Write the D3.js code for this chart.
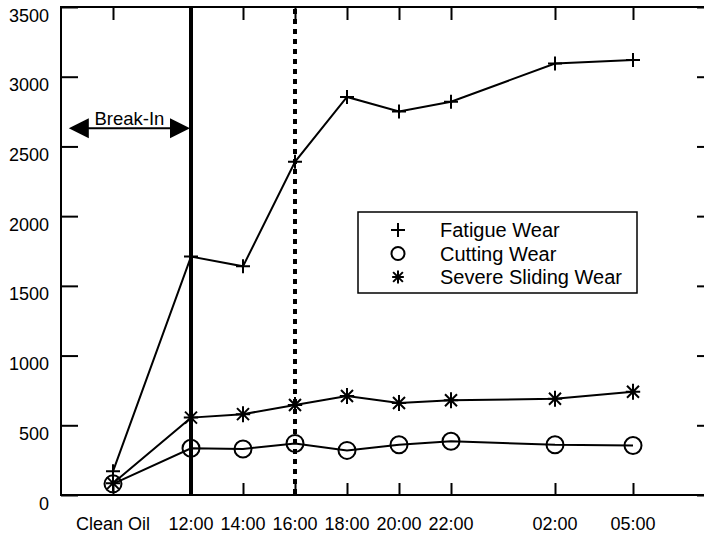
<!DOCTYPE html>
<html>
<head>
<meta charset="utf-8">
<script src="https://cdn.jsdelivr.net/npm/d3@7"></script>
<style>
  html, body { margin: 0; padding: 0; background: #fff; }
  svg { display: block; }
  text { font-family: "Liberation Sans", Arial, sans-serif; fill: #000; }
</style>
</head>
<body>
<svg id="chart" width="704" height="535"></svg>
<script>
// Sample points: label shown on the axis and elapsed clock hour used for spacing
const sampleLabels = ["Clean Oil", "12:00", "14:00", "16:00", "18:00", "20:00", "22:00", "02:00", "05:00"];
const sampleHours  = [9, 12, 14, 16, 18, 20, 22, 26, 29];

// Particle counts per wear mode
const fatigueWear = [170, 1710, 1640, 2390, 2855, 2750, 2820, 3095, 3120];
const cuttingWear = [80, 335, 330, 370, 320, 360, 385, 360, 355];
const slidingWear = [85, 555, 580, 645, 710, 660, 680, 690, 740];

const yTicks = [0, 500, 1000, 1500, 2000, 2500, 3000, 3500];

// Event markers on the time axis
const breakInEnd = 12;     // solid line
const checkpoint = 16;     // dashed line
const breakInStart = 7.3;  // left tip of the Break-In arrow
const breakInLevel = 2630;

const svg = d3.select("#chart");
const frame = { left: 61, right: 714, top: 7, bottom: 495 };

const x = d3.scaleLinear().domain([9, 29]).range([113, 633]);
const y = d3.scaleLinear().domain([0, 3500]).range([frame.bottom, frame.top]);

// Plot frame (right edge runs past the page edge)
svg.append("rect")
  .attr("x", frame.left).attr("y", frame.top)
  .attr("width", frame.right - frame.left).attr("height", frame.bottom - frame.top)
  .attr("fill", "none").attr("stroke", "#000").attr("stroke-width", 2);

// Y ticks, inward on both sides
const yAxisL = d3.axisRight(y).tickValues(yTicks).tickSize(17).tickFormat("");
const yAxisR = d3.axisLeft(y).tickValues(yTicks).tickSize(17).tickFormat("");
svg.append("g").attr("transform", `translate(${frame.left},0)`).call(yAxisL)
  .call(g => g.select(".domain").remove())
  .selectAll("line").attr("stroke-width", 2);
svg.append("g").attr("transform", `translate(${frame.right},0)`).call(yAxisR)
  .call(g => g.select(".domain").remove())
  .selectAll("line").attr("stroke-width", 2);

// Y tick labels
svg.append("g").selectAll("text").data(yTicks).join("text")
  .attr("x", 49).attr("y", d => y(d) + 14.5)
  .attr("text-anchor", "end").attr("font-size", 18)
  .text(d => d);

// X ticks, inward on top and bottom
const xTop = d3.axisBottom(x).tickValues(sampleHours).tickSize(13).tickFormat("");
const xBot = d3.axisTop(x).tickValues(sampleHours).tickSize(12).tickFormat("");
svg.append("g").attr("transform", `translate(0,${frame.top})`).call(xTop)
  .call(g => g.select(".domain").remove())
  .selectAll("line").attr("stroke-width", 2);
svg.append("g").attr("transform", `translate(0,${frame.bottom})`).call(xBot)
  .call(g => g.select(".domain").remove())
  .selectAll("line").attr("stroke-width", 2);

// X tick labels
svg.append("g").selectAll("text").data(sampleHours).join("text")
  .attr("x", d => x(d)).attr("y", 530)
  .attr("text-anchor", "middle").attr("font-size", 18)
  .text((d, i) => sampleLabels[i]);

// End of break-in (solid) and checkpoint (dashed)
svg.append("line")
  .attr("x1", x(breakInEnd)).attr("x2", x(breakInEnd))
  .attr("y1", frame.top).attr("y2", frame.bottom)
  .attr("stroke", "#000").attr("stroke-width", 4);
svg.append("line")
  .attr("x1", x(checkpoint)).attr("x2", x(checkpoint))
  .attr("y1", frame.top + 2).attr("y2", frame.bottom)
  .attr("stroke", "#000").attr("stroke-width", 4)
  .attr("stroke-dasharray", "5,5");

// Break-In double arrow
const ay = y(breakInLevel);
const ax1 = x(breakInStart), ax2 = x(breakInEnd) - 1;
svg.append("line").attr("x1", ax1 + 10).attr("x2", ax2 - 10)
  .attr("y1", ay).attr("y2", ay).attr("stroke", "#000").attr("stroke-width", 2);
svg.append("path")
  .attr("d", `M${ax1},${ay} L${ax1 + 20},${ay - 10} L${ax1 + 20},${ay + 10} Z`)
  .attr("fill", "#000");
svg.append("path")
  .attr("d", `M${ax2},${ay} L${ax2 - 20},${ay - 10} L${ax2 - 20},${ay + 10} Z`)
  .attr("fill", "#000");
svg.append("text")
  .attr("x", (ax1 + ax2) / 2).attr("y", ay - 3)
  .attr("text-anchor", "middle").attr("font-size", 18.5)
  .text("Break-In");

// Marker shapes
function plusPath(s) { return `M${-s},0H${s}M0,${-s}V${s}`; }
function starPath(s) {
  const d = s * 0.75;
  return `M0,${-s}V${s}M${-s * 0.9},0H${s * 0.9}M${-d},${-d}L${d},${d}M${-d},${d}L${d},${-d}`;
}

const series = [
  { name: "Fatigue Wear", values: fatigueWear, kind: "plus" },
  { name: "Cutting Wear", values: cuttingWear, kind: "circle" },
  { name: "Severe Sliding Wear", values: slidingWear, kind: "star" }
];

const line = d3.line().x((d, i) => x(sampleHours[i])).y(d => y(d));

function drawMarker(g, kind, size) {
  if (kind === "circle") {
    g.append("circle").attr("r", size).attr("fill", "none")
      .attr("stroke", "#000").attr("stroke-width", 2);
  } else {
    g.append("path").attr("d", kind === "plus" ? plusPath(size) : starPath(size))
      .attr("fill", "none").attr("stroke", "#000").attr("stroke-width", 2);
  }
}

const markerSize = { plus: 7, circle: 8.5, star: 8 };

series.forEach(s => {
  svg.append("path").datum(s.values).attr("d", line)
    .attr("fill", "none").attr("stroke", "#000").attr("stroke-width", 2);
});
series.forEach(s => {
  s.values.forEach((v, i) => {
    const g = svg.append("g").attr("transform", `translate(${x(sampleHours[i])},${y(v)})`);
    drawMarker(g, s.kind, markerSize[s.kind]);
  });
});

// Legend
const legend = svg.append("g");
legend.append("rect").attr("x", 358).attr("y", 212).attr("width", 279).attr("height", 81)
  .attr("fill", "#fff").attr("stroke", "#000").attr("stroke-width", 1.5);
const legendSize = { plus: 7, circle: 6.5, star: 6.5 };
series.forEach((s, i) => {
  const ry = 230 + i * 23.5;
  const g = legend.append("g").attr("transform", `translate(398,${ry})`);
  drawMarker(g, s.kind, legendSize[s.kind]);
  legend.append("text").attr("x", 440).attr("y", ry + 7)
    .attr("font-size", 20).text(s.name);
});
</script>
</body>
</html>
